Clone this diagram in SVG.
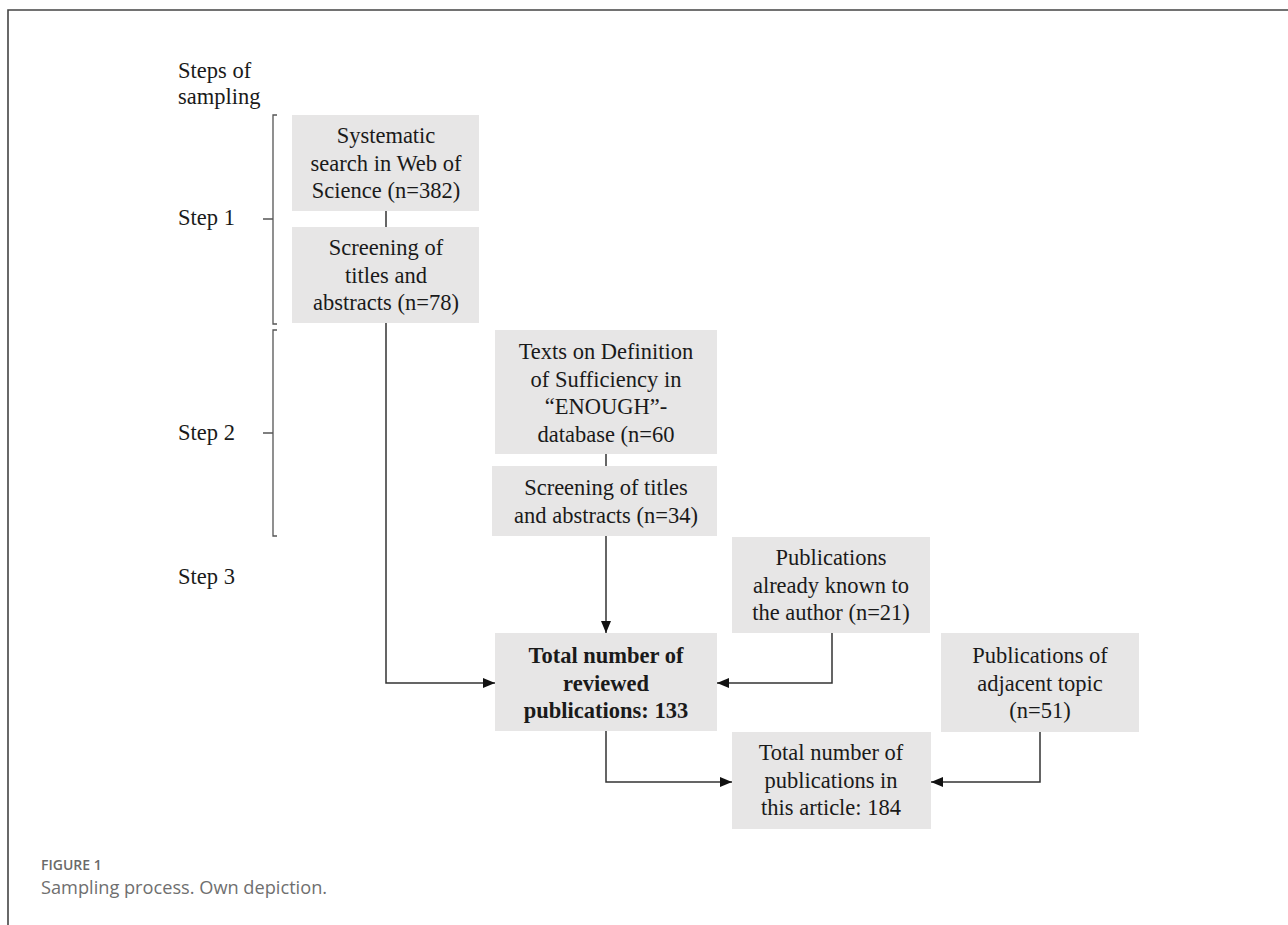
<svg xmlns="http://www.w3.org/2000/svg" width="1288" height="925" viewBox="0 0 1288 925">
<style>
.bx{fill:#e7e6e6;}
.t{font-family:"Liberation Serif","Times New Roman",serif;font-size:22.5px;fill:#1a1a1a;text-anchor:middle;}
.tb{font-weight:bold;}
.lab{font-family:"Liberation Serif","Times New Roman",serif;font-size:22.5px;fill:#1a1a1a;}
.br{fill:none;stroke:#555;stroke-width:1.3;}
.cn{fill:none;stroke:#333;stroke-width:1.5;}
.frame{fill:none;stroke:#444;stroke-width:1.6;}
.cap1{font-family:"Open Sans","Liberation Sans",sans-serif;font-size:14px;font-weight:600;fill:#6a6a6a;}
.cap2{font-family:"Open Sans","Liberation Sans",sans-serif;font-size:18.2px;fill:#6f6f6f;}
</style>
<defs>
<marker id="ah" viewBox="0 0 12 10" refX="12" refY="5" markerWidth="12" markerHeight="10" markerUnits="userSpaceOnUse" orient="auto">
<path d="M0,0 L12,5 L0,10 Z" fill="#111"/>
</marker>
</defs>
<rect width="1288" height="925" fill="#fff"/>
<path class="frame" d="M8,925 V10 H1288"/>

<g id="labels">
<text class="lab" x="178" y="78">Steps of</text>
<text class="lab" x="178" y="104">sampling</text>
<text class="lab" x="178" y="225">Step 1</text>
<text class="lab" x="178" y="440">Step 2</text>
<text class="lab" x="178" y="584">Step 3</text>
<path class="br" d="M277,115 H273 V324 H277 M263,219 H273"/>
<path class="br" d="M277,330 H273 V536 H277 M263,433 H273"/>
</g>

<g id="connectors">
<path class="cn" d="M386,211 V227"/>
<path class="cn" d="M606,454 V466"/>
<path class="cn" d="M386,323 V683 H495" marker-end="url(#ah)"/>
<path class="cn" d="M606,536 V633" marker-end="url(#ah)"/>
<path class="cn" d="M832,633 V683 H717" marker-end="url(#ah)"/>
<path class="cn" d="M606,731 V782 H732" marker-end="url(#ah)"/>
<path class="cn" d="M1040,732 V782 H931" marker-end="url(#ah)"/>
</g>

<g id="n1">
<rect class="bx" x="292" y="115" width="187" height="96"/>
<text class="t" x="386" y="143">Systematic</text>
<text class="t" x="386" y="171">search in Web of</text>
<text class="t" x="386" y="198">Science (n=382)</text>
</g>
<g id="n2">
<rect class="bx" x="292" y="227" width="187" height="96"/>
<text class="t" x="386" y="255">Screening of</text>
<text class="t" x="386" y="283">titles and</text>
<text class="t" x="386" y="310">abstracts (n=78)</text>
</g>
<g id="n3">
<rect class="bx" x="495" y="330" width="222" height="124"/>
<text class="t" x="606" y="359">Texts on Definition</text>
<text class="t" x="606" y="387">of Sufficiency in</text>
<text class="t" x="606" y="414">“ENOUGH”-</text>
<text class="t" x="606" y="442">database (n=60</text>
</g>
<g id="n4">
<rect class="bx" x="492" y="466" width="225" height="70"/>
<text class="t" x="606" y="495">Screening of titles</text>
<text class="t" x="606" y="523">and abstracts (n=34)</text>
</g>
<g id="n5">
<rect class="bx" x="732" y="537" width="198" height="96"/>
<text class="t" x="831" y="565">Publications</text>
<text class="t" x="831" y="593">already known to</text>
<text class="t" x="831" y="620">the author (n=21)</text>
</g>
<g id="n6">
<rect class="bx" x="495" y="633" width="222" height="98"/>
<text class="t tb" x="606" y="663">Total number of</text>
<text class="t tb" x="606" y="691">reviewed</text>
<text class="t tb" x="606" y="718">publications: 133</text>
</g>
<g id="n7">
<rect class="bx" x="941" y="633" width="198" height="99"/>
<text class="t" x="1040" y="663">Publications of</text>
<text class="t" x="1040" y="691">adjacent topic</text>
<text class="t" x="1040" y="718">(n=51)</text>
</g>
<g id="n8">
<rect class="bx" x="732" y="732" width="199" height="97"/>
<text class="t" x="831" y="760">Total number of</text>
<text class="t" x="831" y="788">publications in</text>
<text class="t" x="831" y="815">this article: 184</text>
</g>

<g id="caption">
<text class="cap1" x="41" y="870">FIGURE 1</text>
<text class="cap2" x="41" y="894">Sampling process. Own depiction.</text>
</g>
</svg>
